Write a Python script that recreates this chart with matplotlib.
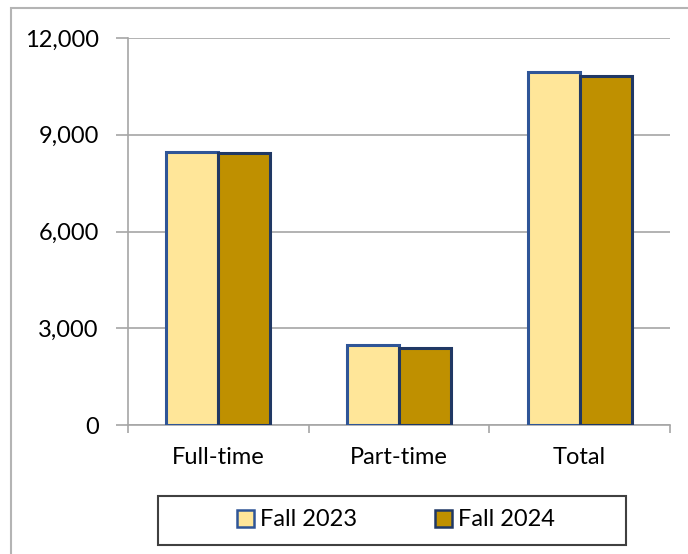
import matplotlib
matplotlib.use('Agg')
import matplotlib.pyplot as plt
import numpy as np
from matplotlib.patches import Rectangle, Patch

# --- Data ---
categories = ['Full-time', 'Part-time', 'Total']
fall_2023 = [8465, 2480, 10935]
fall_2024 = [8440, 2390, 10810]
series_names = ['Fall 2023', 'Fall 2024']
y_ticks = [0, 3000, 6000, 9000, 12000]

# --- Styling ---
FILL_23 = '#FFE699'
FILL_24 = '#BF9000'
EDGE_23 = '#2F5597'
EDGE_24 = '#203864'
GRID = '#A6A6A6'
FONT = 'Lato'
FS = 17

plt.rcParams['font.family'] = [FONT, 'DejaVu Sans']

W, H = 688, 554
fig = plt.figure(figsize=(W / 100, H / 100), dpi=100)

# outer chart border
fig.patches.append(Rectangle((11 / W, -0.05), 2, 1.05 - 8 / H, transform=fig.transFigure,
                             fill=False, edgecolor='#B4B4B4', linewidth=1.5))

ax = fig.add_axes([128 / W, 1 - 425 / H, (670 - 128) / W, (425 - 38) / H])

x = np.arange(len(categories))
bw = 0.288
ax.bar(x - bw / 2, fall_2023, bw, color=FILL_23, edgecolor=EDGE_23, linewidth=2.2,
       label=series_names[0], zorder=3)
ax.bar(x + bw / 2, fall_2024, bw, color=FILL_24, edgecolor=EDGE_24, linewidth=2.2,
       label=series_names[1], zorder=3)

ax.set_xlim(-0.5, len(categories) - 0.5)
ax.set_ylim(0, 12000)
ax.set_yticks(y_ticks)
ax.set_yticklabels([f'{v:,}' for v in y_ticks])
ax.yaxis.grid(True, color=GRID, linewidth=1.2, zorder=0)
ax.set_axisbelow(True)

ax.set_xticks(x)
ax.set_xticklabels(categories)
ax.set_xticks(np.arange(-0.5, len(categories)), minor=True)
ax.tick_params(axis='x', which='major', length=0, pad=16, labelsize=FS)
ax.tick_params(axis='x', which='minor', length=6, color=GRID, width=1.2)
ax.tick_params(axis='y', length=9, color=GRID, width=1.2, pad=12, labelsize=FS)

for side in ['top', 'right']:
    ax.spines[side].set_visible(False)
for side in ['left', 'bottom']:
    ax.spines[side].set_color(GRID)
    ax.spines[side].set_linewidth(1.2)

# legend box drawn separately
fig.patches.append(Rectangle((158 / W, 1 - 545 / H), (626 - 158) / W, (545 - 496) / H,
                             transform=fig.transFigure, fill=False,
                             edgecolor='#404040', linewidth=1.5))
handles = [Patch(facecolor=FILL_23, edgecolor=EDGE_23, linewidth=1.8),
           Patch(facecolor=FILL_24, edgecolor=EDGE_24, linewidth=1.8)]
fig.legend(handles, series_names, loc='center', bbox_to_anchor=(396 / W, 1 - 520 / H),
           ncol=2, frameon=False, fontsize=FS, handlelength=0.72, handleheight=0.72,
           handletextpad=0.25, columnspacing=3.3)

fig.savefig('out.png', dpi=100)
